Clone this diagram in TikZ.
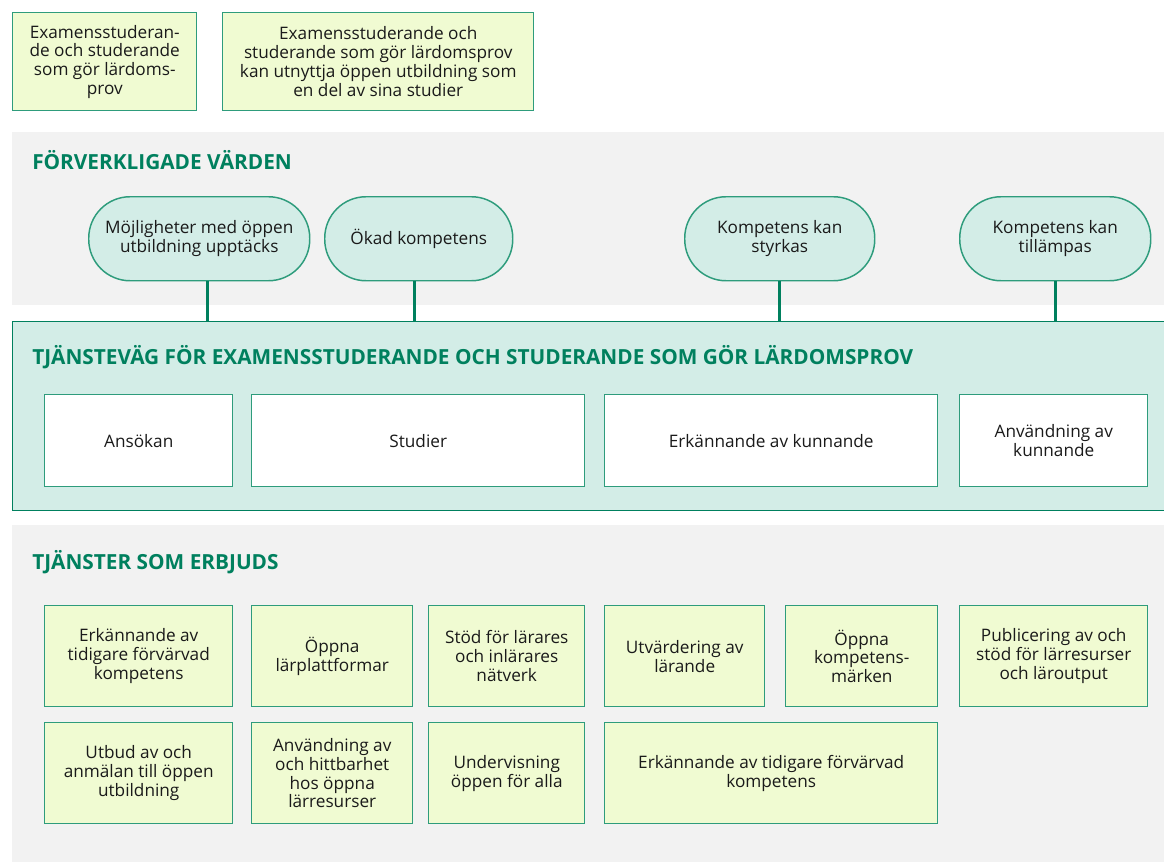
\documentclass[tikz,border=0pt]{standalone}
\usepackage{fontspec}
\setmainfont{Open Sans}
\definecolor{panelgray}{HTML}{F2F2F2}
\definecolor{mint}{HTML}{D3EDE7}
\definecolor{lime}{HTML}{F0FBD2}
\definecolor{edge}{HTML}{2E9C7C}
\definecolor{teal}{HTML}{00805E}
\definecolor{ink}{HTML}{1A1A1A}

\begin{document}
\begin{tikzpicture}[x=0.75pt,y=-0.75pt,
  font=\fontsize{12.9pt}{14.1pt}\selectfont, text=ink,
  wh/.style 2 args={minimum width=#1*0.75pt, minimum height=#2*0.75pt},
  box/.style={draw=edge, line width=1.1pt, inner sep=0pt, align=center, anchor=north west},
  svc/.style={box, fill=lime},
  phase/.style={box, fill=white},
  pill/.style={box, fill=mint, rounded corners=31pt},
  head/.style={anchor=west, inner sep=0pt, text=teal, font=\fontsize{15.6pt}{18pt}\selectfont\bfseries},
  stem/.style={teal, line width=2.4pt}]
\useasboundingbox (0,0) rectangle (1164,861);
\fill[panelgray] (12,132) rectangle (1170,305);
\fill[panelgray] (12,525) rectangle (1170,870);

\node[svc, wh={184}{98}] (who) at (12,12) {Examensstuderan-\\de och studerande\\som gör lärdoms-\\prov};
\node[svc, wh={311}{98}] (use) at (222,12) {Examensstuderande och\\studerande som gör lärdomsprov\\kan utnyttja öppen utbildning som\\en del av sina studier};

\node[head] (vtitle) at (32,160) {FÖRVERKLIGADE VÄRDEN};
\node[pill, wh={221}{84}] (v1) at (88,196) {Möjligheter med öppen\\utbildning upptäcks};
\node[pill, wh={188}{84}] (v2) at (324,196) {Ökad kompetens};
\node[pill, wh={190}{84}] (v3) at (684,196) {Kompetens kan\\styrkas};
\node[pill, wh={191}{84}] (v4) at (959,196) {Kompetens kan\\tillämpas};

\node[box, fill=mint, draw=teal, wh={1165}{189}] (lane) at (12,321) {};
\node[head] (ltitle) at (32,357) {TJÄNSTEVÄG FÖR EXAMENSSTUDERANDE OCH STUDERANDE SOM GÖR LÄRDOMSPROV};
\node[phase, wh={188}{92}] (p1) at (44,394) {Ansökan};
\node[phase, wh={333}{92}] (p2) at (251,394) {Studier};
\node[phase, wh={333}{92}] (p3) at (604,394) {Erkännande av kunnande};
\node[phase, wh={188}{92}] (p4) at (959,394) {Användning av\\kunnande};

\draw[stem] ([xshift=6pt]v1.south) -- ([xshift=6pt]v1.south |- lane.north);
\draw[stem] ([xshift=-3pt]v2.south) -- ([xshift=-3pt]v2.south |- lane.north);
\draw[stem] (v3.south) -- (v3.south |- lane.north);
\draw[stem] (v4.south) -- (v4.south |- lane.north);

\node[head] (stitle) at (32,562) {TJÄNSTER SOM ERBJUDS};
\node[svc, wh={188}{101}] (s1) at (44,605) {Erkännande av\\tidigare förvärvad\\kompetens};
\node[svc, wh={161}{101}] (s2) at (251,605) {Öppna\\lärplattformar};
\node[svc, wh={156}{101}] (s3) at (428,605) {Stöd för lärares\\och inlärares\\nätverk};
\node[svc, wh={160}{101}] (s4) at (604,605) {Utvärdering av\\lärande};
\node[svc, wh={152}{101}] (s5) at (785,605) {Öppna\\kompetens-\\märken};
\node[svc, wh={188}{101}] (s6) at (959,605) {Publicering av och\\stöd för lärresurser\\och läroutput};
\node[svc, wh={188}{101}] (s7) at (44,722) {Utbud av och\\anmälan till öppen\\utbildning};
\node[svc, wh={161}{101}] (s8) at (251,722) {Användning av\\och hittbarhet\\hos öppna\\lärresurser};
\node[svc, wh={156}{101}] (s9) at (428,722) {Undervisning\\öppen för alla};
\node[svc, wh={333}{101}] (s10) at (604,722) {Erkännande av tidigare förvärvad\\kompetens};
\end{tikzpicture}
\end{document}
